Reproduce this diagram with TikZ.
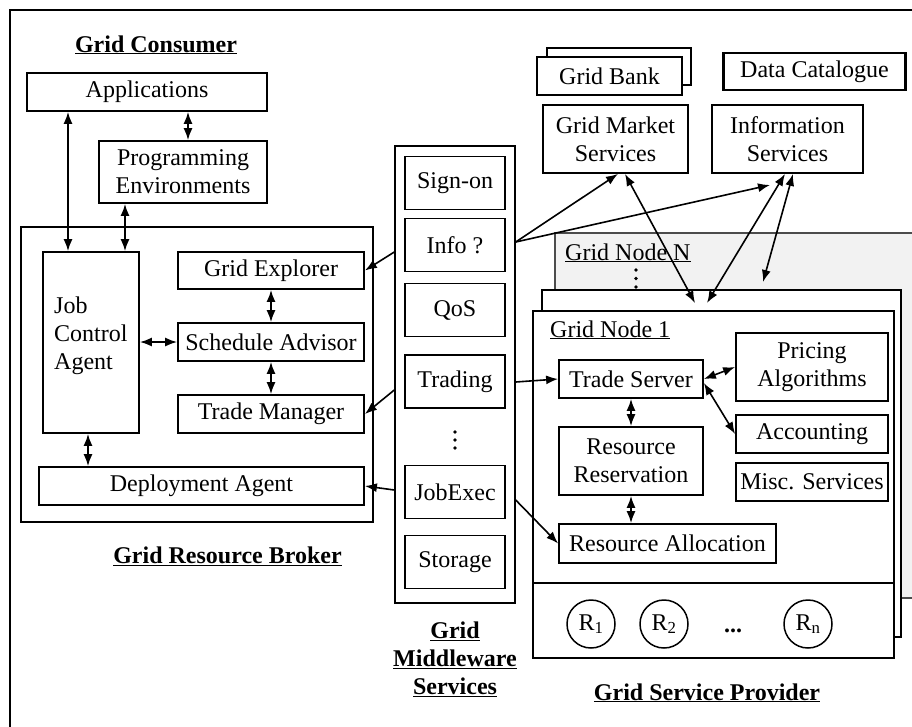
\documentclass[tikz,border=0pt]{standalone}
\usepackage{fontspec}
\setmainfont{Liberation Serif}
\usetikzlibrary{arrows.meta}
\begin{document}
\begin{tikzpicture}[x=1pt,y=-1pt,
  every node/.style={font=\fontsize{24}{28}\selectfont},
  box/.style={draw, line width=1.8pt, fill=white, inner sep=0pt, align=center},
  holder/.style={draw, line width=1.4pt, fill=white, inner sep=0pt},
  dbl/.style={{Latex[length=12pt,width=9pt]}-{Latex[length=12pt,width=9pt]}, line width=1.6pt},
  one/.style={-{Latex[length=12pt,width=9pt]}, line width=1.6pt},
  title/.style={font=\fontsize{24}{28}\selectfont\bfseries, align=center, inner sep=0pt},
  res/.style={draw, circle, line width=1.5pt, minimum size=48pt, inner sep=0pt},
  lbl/.style={inner sep=0pt}
]
\useasboundingbox (0,0) rectangle (912,726);
\clip (0,0) rectangle (912,726);

% outer frame
\draw[line width=2pt] (10,740) -- (10,10) -- (930,10);

% ---------------- Grid consumer ----------------
\node[title, anchor=base] (consumer) at (156,52) {\underline{Grid Consumer}};
\node[box, minimum width=240pt, minimum height=38pt] (apps) at (147,92) {Applications};
\node[box, minimum width=168pt, minimum height=62pt] (pe) at (183,172) {Programming\\Environments};

% ---------------- Grid resource broker ----------------
\node[holder, minimum width=352pt, minimum height=295pt] (broker) at (197,374.5) {};
\node[box, minimum width=96pt, minimum height=181pt] (jca) at (91,342.5) {};
\node[lbl, anchor=west, align=left] (jcatext) at (54,336) {Job\\Control\\Agent};
\node[box, minimum width=186pt, minimum height=37pt] (ge) at (271,270.5) {Grid Explorer};
\node[box, minimum width=186pt, minimum height=38pt] (sa) at (271,342) {Schedule Advisor};
\node[box, minimum width=186pt, minimum height=38pt] (tm) at (271,414) {Trade Manager};
\node[box, minimum width=325pt, minimum height=38pt] (da) at (201.5,486) {Deployment Agent};
\node[title, anchor=base] (brokerlbl) at (227.5,563) {\underline{Grid Resource Broker}};

\draw[dbl] (apps.south -| 68,0) -- (jca.north -| 68,0);
\draw[dbl] (pe.south -| 125,0) -- (jca.north -| 125,0);
\draw[dbl] (apps.south -| 188,0) -- (pe.north -| 188,0);
\draw[dbl] (ge.south) -- (sa.north);
\draw[dbl] (sa.south) -- (tm.north);
\draw[dbl] (jca.east |- sa.west) -- (sa.west);
\draw[dbl] (jca.south -| 88,0) -- (da.north -| 88,0);

% ---------------- Grid middleware services ----------------
\node[holder, minimum width=120pt, minimum height=457pt] (mw) at (455,374.5) {};
\node[box, minimum width=100pt, minimum height=53pt] (signon) at (455,183) {Sign-on};
\node[box, minimum width=100pt, minimum height=53pt] (info) at (455,245) {Info ?};
\node[box, minimum width=100pt, minimum height=53pt] (qos) at (455,310) {QoS};
\node[box, minimum width=100pt, minimum height=53pt] (trading) at (455,381.5) {Trading};
\node[box, minimum width=100pt, minimum height=53pt] (jobexec) at (455,492) {JobExec};
\node[box, minimum width=100pt, minimum height=53pt] (storage) at (455,562) {Storage};
\foreach \y in {432,440,448} \fill (455,\y) circle (1.9pt);
\node[title] (mwlbl) at (455,659) {\underline{Grid}\\\underline{Middleware}\\\underline{Services}};

% ---------------- market and information services ----------------
\node[box, minimum width=144pt, minimum height=37pt] (bankback) at (619,66.5) {};
\node[box, minimum width=145pt, minimum height=38pt] (bank) at (609.5,76) {Grid Bank};
\node[box, line width=2.4pt, minimum width=182pt, minimum height=37pt] (catalogue) at (814.5,71.5) {Data Catalogue};
\node[box, minimum width=145pt, minimum height=68pt] (gms) at (615.5,139) {Grid Market\\Services};
\node[box, minimum width=151pt, minimum height=68pt] (is) at (787.5,139) {Information\\Services};

% ---------------- Grid service provider ----------------
\node[draw=black!70, fill=black!5, line width=1.3pt, inner sep=0pt, minimum width=375pt, minimum height=365pt] (gnN) at (742.5,415.5) {};
\node[lbl, anchor=base west] (gnNlbl) at (565,260) {\underline{Grid Node N}};
\foreach \y in {270,278.5,287} \fill (636,\y) circle (1.9pt);
\node[holder, minimum width=359pt, minimum height=347pt] (gn2) at (721.5,463.5) {};
\node[holder, minimum width=361pt, minimum height=347pt] (gn1) at (713.5,484.5) {};
\draw[line width=1.4pt] (gn1.west |- 0,583) -- (gn1.east |- 0,583);
\node[lbl, anchor=base west] (gn1lbl) at (550,337) {\underline{Grid Node 1}};

\node[box, minimum width=144pt, minimum height=38pt] (ts) at (631,379) {Trade Server};
\node[box, minimum width=144pt, minimum height=68pt] (rr) at (631,461) {Resource\\Reservation};
\node[box, minimum width=217pt, minimum height=39pt] (ra) at (667.5,543.5) {Resource Allocation};
\node[box, minimum width=152pt, minimum height=68pt] (pa) at (812,367) {Pricing\\Algorithms};
\node[box, minimum width=152pt, minimum height=38pt] (acc) at (812,434) {Accounting};
\node[box, minimum width=152pt, minimum height=38pt] (misc) at (812,482) {Misc. Services};

\draw[dbl] (ts.south) -- (rr.north);
\draw[dbl] (rr.south) -- (rr.south |- ra.north);
\draw[dbl] (ts.east) -- (pa.west);
\draw[dbl] ([yshift=-4pt]ts.east) -- (acc.west);

\node[res] (r1) at (591,624) {R\textsubscript{1}};
\node[res] (r2) at (664,624) {R\textsubscript{2}};
\node[lbl, anchor=base] (rdots) at (733,632) {\textbf{...}};
\node[res] (rn) at (808,624) {R\textsubscript{n}};
\node[title, anchor=base] (provider) at (707,700) {\underline{Grid Service Provider}};

% ---------------- connections ----------------
\coordinate (isend) at (770,185);
\coordinate (n2a) at (695,303);
\coordinate (n2b) at (707,303);
\coordinate (nNa) at (763,282);

\draw[one] (mw.west |- 0,252) -- (ge.east);
\draw[one] (mw.west |- 0,390) -- (tm.east);
\draw[one] (mw.west |- 0,490) -- (da.east);

\draw[one] (mw.east |- 0,242) -- ([xshift=2.5pt]gms.south);
\draw[one] (mw.east |- 0,242) -- (isend);
\draw[one] (mw.east |- 0,382) -- (ts.west);
\draw[one] (mw.east |- 0,500) -- (ra.west);

\draw[dbl] ([xshift=9.5pt]gms.south) -- (n2a);
\draw[dbl] ([xshift=-2.5pt]is.south) -- (n2b);
\draw[dbl] ([xshift=5.5pt]is.south) -- (nNa);
\end{tikzpicture}
\end{document}
